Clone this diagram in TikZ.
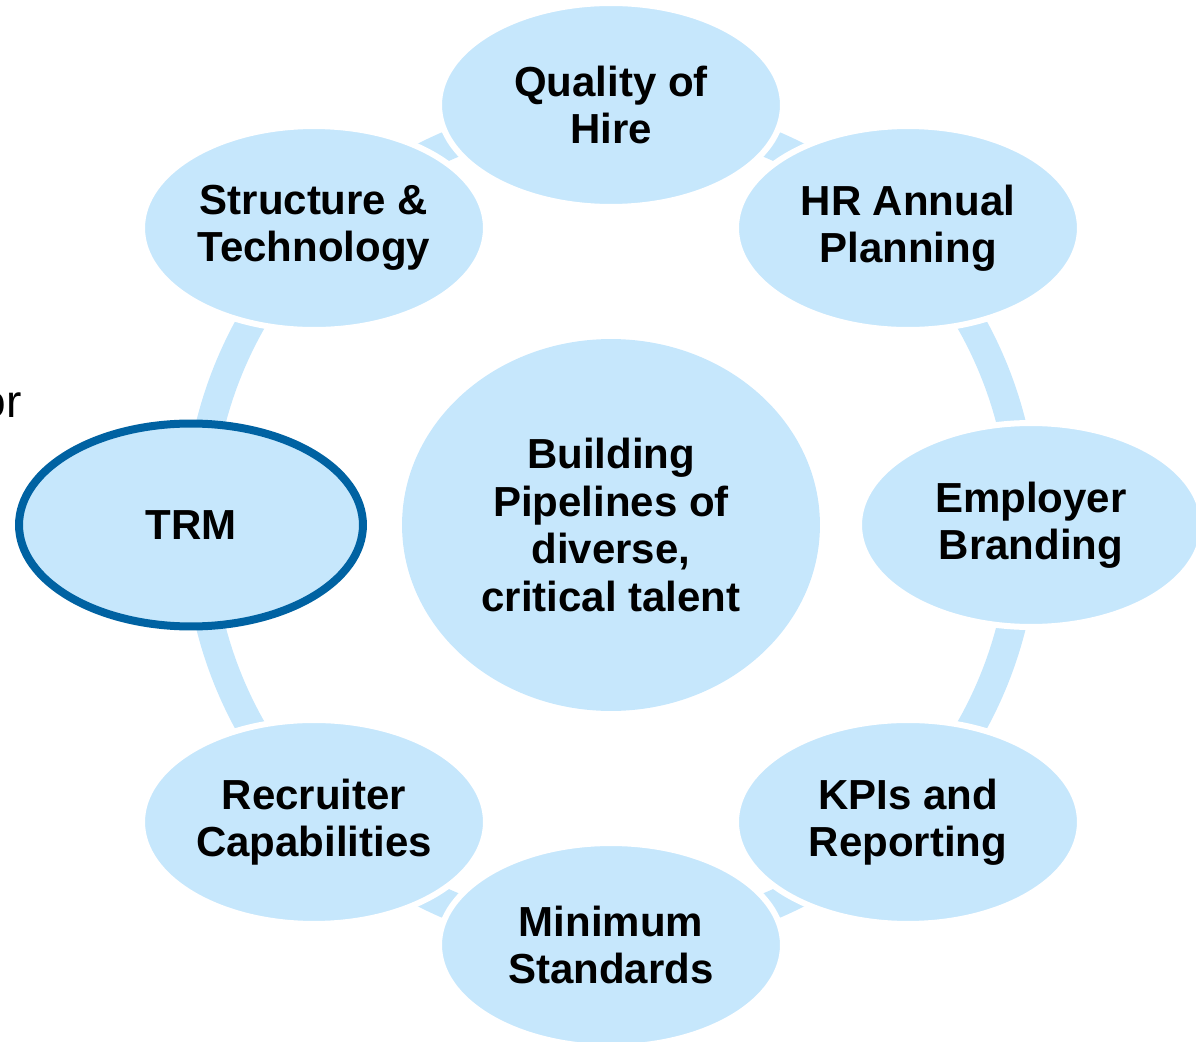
\documentclass[tikz,border=0pt]{standalone}
\usepackage{fontspec}
\setmainfont{Liberation Sans}
\usetikzlibrary{shapes, backgrounds}
\definecolor{ringblue}{RGB}{198,231,252}
\definecolor{trmblue}{RGB}{0,98,162}
\tikzstyle{topic} = [ellipse, minimum width=6.88cm, minimum height=4.08cm, inner sep=0pt, align=center, fill=ringblue, draw=white, line width=0.12cm, font=\bfseries\fontsize{23.9}{27}\selectfont]
\tikzstyle{focus} = [topic, minimum width=6.88cm, minimum height=4.06cm, draw=trmblue, line width=0.16cm]
\tikzstyle{hub} = [topic, minimum width=8.36cm, minimum height=7.44cm, draw=none]
\tikzstyle{ring} = [draw=ringblue, line width=0.58cm]

\begin{document}
\begin{tikzpicture}[x=0.02cm, y=0.02cm]
   \useasboundingbox (-611,-516) rectangle (585,525);
   \node (hub) [hub] at (0,0) {Building\\Pipelines of\\diverse,\\critical talent};
   \node (quality) [topic] at (90:420) {Quality of\\Hire};
   \node (hr) [topic] at (45:420) {HR Annual\\Planning};
   \node (employer) [topic] at (0:420) {Employer\\Branding};
   \node (kpi) [topic] at (-45:420) {KPIs and\\Reporting};
   \node (minimum) [topic] at (-90:420) {Minimum\\Standards};
   \node (recruiter) [topic] at (-135:420) {Recruiter\\Capabilities};
   \node (trm) [focus] at (180:420) {TRM};
   \node (structure) [topic] at (135:420) {Structure \&\\Technology};

   % cycle ring, shows only in the gaps between the topics
   \begin{scope}[on background layer]
   \draw [ring] (hub.center) circle [radius=8.26cm];
   \end{scope}

   \node (or) [anchor=base east, inner sep=0pt, font=\fontsize{26.2}{30}\selectfont] at (-589,108) {or};
\end{tikzpicture}
\end{document}
